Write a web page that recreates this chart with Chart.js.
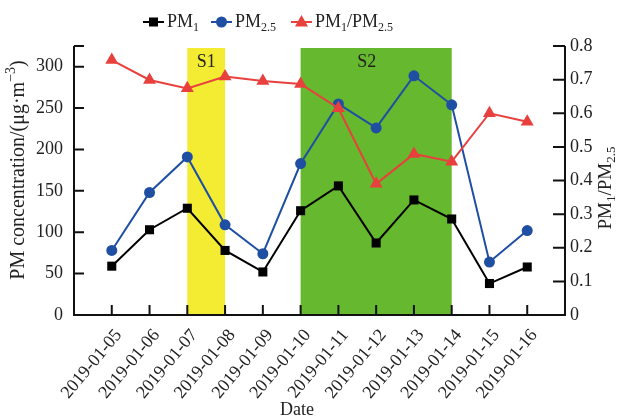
<!DOCTYPE html>
<html>
<head>
<meta charset="utf-8">
<script src="https://cdn.jsdelivr.net/npm/chart.js@4.4.1/dist/chart.umd.min.js"></script>
<style>
  html, body { margin: 0; padding: 0; background: #ffffff; }
  #wrap { width: 621px; height: 417px; }
</style>
</head>
<body>
<div id="wrap"><canvas id="c" width="621" height="417"></canvas></div>
<script>
// ---- data ----
const dates = ['2019-01-05', '2019-01-06', '2019-01-07', '2019-01-08', '2019-01-09', '2019-01-10',
               '2019-01-11', '2019-01-12', '2019-01-13', '2019-01-14', '2019-01-15', '2019-01-16'];
const pm1   = [59, 103, 129, 78, 52, 126, 156, 87, 139, 116, 38, 58];
const pm25  = [78, 148, 191, 109, 74, 183, 255, 226, 289, 254, 64, 102];
const ratio = [0.758, 0.699, 0.674, 0.709, 0.696, 0.687, 0.615, 0.390, 0.479, 0.456, 0.600, 0.575];

const leftTicks  = [0, 50, 100, 150, 200, 250, 300];
const rightTicks = [0, 0.1, 0.2, 0.3, 0.4, 0.5, 0.6, 0.7, 0.8];

// pollution episodes (category index range)
const episodeNames = ['S1', 'S2'];
const episodeFrom  = [2, 5];
const episodeTo    = [3, 9];
const episodeLabelAt = [2.5, 6.75];

const FONT = '"Liberation Serif", "Times New Roman", serif';
const COLORS = { pm1: '#000000', pm25: '#1e4fa3', ratio: '#e8413d', s1: '#f3ec32', s2: '#66b82e' };

// ---- helpers ----
// parts: [text, mode] mode 0 normal, 1 subscript, -1 superscript
function richWidth(ctx, parts, size) {
  let w = 0;
  parts.forEach(([t, m]) => {
    ctx.font = (m ? Math.round(size * 0.68) : size) + 'px ' + FONT;
    w += ctx.measureText(t).width;
  });
  return w;
}
function drawRich(ctx, parts, x, y, size) {
  let cx = x;
  parts.forEach(([t, m]) => {
    const s = m ? Math.round(size * 0.68) : size;
    ctx.font = s + 'px ' + FONT;
    const dy = m === 1 ? size * 0.3 : (m === -1 ? -size * 0.38 : 0);
    ctx.fillText(t, cx, y + dy);
    cx += ctx.measureText(t).width;
  });
}
function marker(ctx, style, x, y, color) {
  ctx.save();
  ctx.fillStyle = color;
  ctx.beginPath();
  if (style === 'rect') {
    ctx.rect(x - 4.5, y - 4.5, 9, 9);
  } else if (style === 'circle') {
    ctx.arc(x, y, 5.5, 0, Math.PI * 2);
  } else {
    ctx.moveTo(x, y - 7);
    ctx.lineTo(x + 6.5, y + 4.5);
    ctx.lineTo(x - 6.5, y + 4.5);
    ctx.closePath();
  }
  ctx.fill();
  ctx.restore();
}

// ---- episode shading ----
const bandsPlugin = {
  id: 'bands',
  beforeDatasetsDraw(chart) {
    const { ctx, chartArea, scales } = chart;
    ctx.save();
    episodeNames.forEach((name, i) => {
      const x0 = scales.x.getPixelForValue(episodeFrom[i]);
      const x1 = scales.x.getPixelForValue(episodeTo[i]);
      ctx.fillStyle = i === 0 ? COLORS.s1 : COLORS.s2;
      ctx.fillRect(x0, chartArea.top + 2, x1 - x0, chartArea.bottom - chartArea.top - 2);
      ctx.fillStyle = '#222';
      ctx.font = '18px ' + FONT;
      ctx.textAlign = 'center';
      ctx.textBaseline = 'middle';
      ctx.fillText(name, scales.x.getPixelForValue(episodeLabelAt[i]), chartArea.top + 16);
    });
    ctx.restore();
  }
};

// ---- axes, inward ticks, titles, legend ----
const decorPlugin = {
  id: 'decor',
  afterDraw(chart) {
    const { ctx, chartArea: a, scales } = chart;
    ctx.save();
    ctx.strokeStyle = '#111';
    ctx.lineWidth = 2;
    ctx.beginPath();
    ctx.moveTo(a.left, a.top); ctx.lineTo(a.left, a.bottom); ctx.lineTo(a.right, a.bottom); ctx.lineTo(a.right, a.top);
    // left ticks (inward) + top cap
    leftTicks.concat([scales.y.max]).forEach(v => {
      const y = scales.y.getPixelForValue(v);
      ctx.moveTo(a.left, y); ctx.lineTo(a.left + 10, y);
    });
    rightTicks.forEach(v => {
      const y = scales.y1.getPixelForValue(v);
      ctx.moveTo(a.right, y); ctx.lineTo(a.right - 12, y);
    });
    dates.forEach((d, i) => {
      const x = scales.x.getPixelForValue(i);
      ctx.moveTo(x, a.bottom); ctx.lineTo(x, a.bottom - 10);
    });
    ctx.stroke();

    ctx.fillStyle = '#222';
    ctx.textBaseline = 'middle';

    // x title
    ctx.font = '18px ' + FONT;
    ctx.textAlign = 'center';
    ctx.fillText('Date', 297, 410);
    ctx.textAlign = 'left';

    // left title
    const lt = [['PM concentration/(\u03bcg\u00b7m', 0], ['\u22123', -1], [')', 0]];
    ctx.save();
    ctx.translate(19, 170);
    ctx.rotate(-Math.PI / 2);
    drawRich(ctx, lt, -richWidth(ctx, lt, 20) / 2, 0, 20);
    ctx.restore();

    // right title
    const rt = [['PM', 0], ['1', 1], ['/PM', 0], ['2.5', 1]];
    ctx.save();
    ctx.translate(606, 188);
    ctx.rotate(-Math.PI / 2);
    drawRich(ctx, rt, -richWidth(ctx, rt, 19) / 2, 0, 19);
    ctx.restore();

    // legend
    const items = [
      { parts: [['PM', 0], ['1', 1]], color: COLORS.pm1, style: 'rect', at: 143 },
      { parts: [['PM', 0], ['2.5', 1]], color: COLORS.pm25, style: 'circle', at: 211 },
      { parts: [['PM', 0], ['1', 1], ['/PM', 0], ['2.5', 1]], color: COLORS.ratio, style: 'triangle', at: 291 }
    ];
    const ly = 22;
    items.forEach(it => {
      const lx = it.at;
      ctx.strokeStyle = it.color;
      ctx.lineWidth = 2;
      ctx.beginPath();
      ctx.moveTo(lx, ly); ctx.lineTo(lx + 21, ly);
      ctx.stroke();
      marker(ctx, it.style, lx + 10.5, ly, it.color);
      ctx.fillStyle = '#222';
      drawRich(ctx, it.parts, lx + 24, ly, 18);
    });
    ctx.restore();
  }
};

const toXY = arr => arr.map((v, i) => ({ x: i, y: v }));

new Chart(document.getElementById('c'), {
  type: 'line',
  data: {
    datasets: [
      {
        label: 'PM1', data: toXY(pm1), yAxisID: 'y', order: 2,
        borderColor: COLORS.pm1, backgroundColor: COLORS.pm1, borderWidth: 2,
        pointStyle: 'rect', pointRadius: 6.4, pointBorderWidth: 0, tension: 0
      },
      {
        label: 'PM2.5', data: toXY(pm25), yAxisID: 'y', order: 1,
        borderColor: COLORS.pm25, backgroundColor: COLORS.pm25, borderWidth: 2,
        pointStyle: 'circle', pointRadius: 5.5, pointBorderWidth: 0, tension: 0
      },
      {
        label: 'PM1/PM2.5', data: toXY(ratio), yAxisID: 'y1', order: 0,
        borderColor: COLORS.ratio, backgroundColor: COLORS.ratio, borderWidth: 2,
        pointStyle: 'triangle', pointRadius: 7.5, pointBorderWidth: 0, tension: 0
      }
    ]
  },
  options: {
    responsive: false,
    animation: false,
    devicePixelRatio: 1,
    layout: { padding: { top: 46, left: 0, right: 0, bottom: 0 } },
    plugins: { legend: { display: false }, tooltip: { enabled: false } },
    scales: {
      x: {
        type: 'linear', min: -1, max: 12,
        afterBuildTicks: s => { s.ticks = dates.map((d, i) => ({ value: i })); },
        afterFit: s => { s.height = 102; },
        grid: { display: false, drawTicks: false },
        border: { display: false },
        ticks: {
          autoSkip: false, minRotation: 50, maxRotation: 50, padding: 10, labelOffset: 7,
          color: '#222', font: { family: FONT, size: 18 },
          callback: v => dates[v] || ''
        }
      },
      y: {
        position: 'left', min: 0, max: 325,
        afterBuildTicks: s => { s.ticks = leftTicks.map(v => ({ value: v })); },
        afterFit: s => { s.width = 74; },
        grid: { display: false, drawTicks: false },
        border: { display: false },
        ticks: { padding: 11, color: '#222', font: { family: FONT, size: 18 } }
      },
      y1: {
        position: 'right', min: 0, max: 0.8,
        afterBuildTicks: s => { s.ticks = rightTicks.map(v => ({ value: v })); },
        afterFit: s => { s.width = 56; },
        grid: { display: false, drawTicks: false },
        border: { display: false },
        ticks: { padding: 5, color: '#222', font: { family: FONT, size: 18 }, callback: v => v === 0 ? '0' : v.toFixed(1) }
      }
    }
  },
  plugins: [bandsPlugin, decorPlugin]
});
</script>
</body>
</html>
